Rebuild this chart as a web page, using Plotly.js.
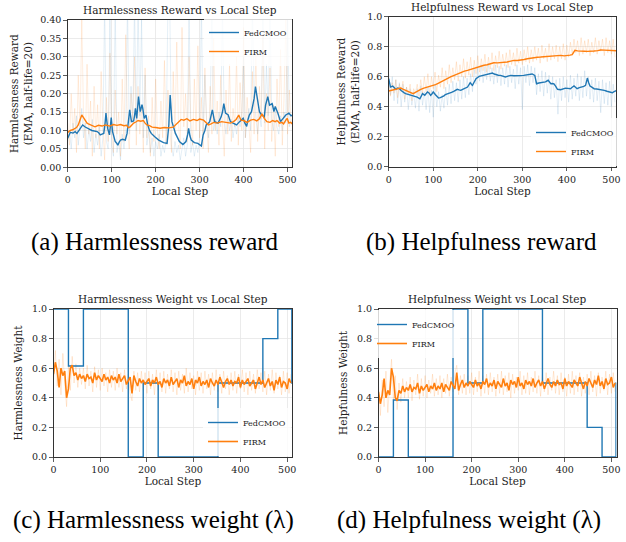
<!DOCTYPE html>
<html><head><meta charset="utf-8">
<script src="https://cdn.plot.ly/plotly-3.0.1.min.js"></script>
<style>html,body{margin:0;padding:0;background:#fff;} #chart{width:626px;height:542px;}</style>
</head><body><div id="chart"></div>
<script>
// ---------- DATA ----------
// (a) Harmlessness reward, EMA lines: [local step, value]
const harmRewardFedEma = [[0,.079],[3,.088],[6,.095],[12,.093],[17,.097],[21,.092],[25,.1],[30,.108],[34,.115],[39,.11],[44,.106],[50,.103],[55,.1],[61,.099],[67,.097],[71,.093],[74,.088],[78,.09],[82,.092],[85,.12],[87,.147],[89,.125],[91,.105],[95,.088],[97,.11],[99,.135],[102,.097],[105,.085],[108,.07],[111,.066],[114,.06],[117,.068],[120,.074],[125,.076],[131,.074],[135,.092],[138,.12],[141,.156],[145,.124],[150,.126],[152,.14],[154,.16],[157,.133],[159,.16],[161,.192],[165,.151],[169,.17],[171,.158],[174,.133],[178,.142],[182,.115],[186,.1],[190,.092],[198,.083],[207,.074],[218,.067],[226,.065],[230,.115],[233,.196],[237,.124],[241,.105],[245,.092],[250,.08],[254,.07],[262,.062],[269,.07],[273,.09],[275,.106],[278,.085],[281,.074],[288,.067],[296,.065],[304,.058],[308,.088],[312,.1],[315,.115],[320,.12],[323,.124],[326,.14],[329,.156],[334,.124],[342,.12],[349,.137],[352,.15],[355,.173],[359,.147],[365,.142],[370,.124],[376,.12],[384,.115],[391,.124],[395,.128],[399,.133],[403,.12],[407,.111],[410,.13],[413,.142],[418,.151],[424,.187],[427,.219],[431,.187],[436,.151],[441,.142],[447,.137],[450,.169],[455,.192],[459,.169],[465,.173],[469,.151],[472,.165],[478,.147],[484,.124],[490,.133],[496,.142],[503,.147],[508,.14],[511,.142]];
const harmRewardFirmEma = [[0,.095],[6,.1],[13,.103],[20,.108],[24,.115],[28,.13],[32,.142],[36,.135],[39,.128],[44,.12],[47,.118],[55,.113],[62,.11],[70,.114],[78,.112],[86,.115],[96,.112],[104,.116],[112,.114],[120,.116],[128,.113],[134,.114],[138,.108],[142,.11],[146,.116],[150,.12],[155,.123],[160,.127],[166,.125],[172,.127],[176,.12],[180,.115],[186,.113],[192,.109],[200,.108],[210,.106],[220,.108],[230,.107],[240,.109],[248,.118],[254,.125],[258,.13],[264,.128],[271,.132],[278,.126],[286,.13],[294,.127],[300,.131],[309,.128],[315,.122],[320,.115],[326,.118],[332,.122],[340,.12],[350,.124],[360,.122],[370,.12],[377,.124],[383,.13],[389,.142],[394,.128],[400,.127],[408,.122],[416,.128],[423,.13],[430,.126],[436,.132],[442,.145],[447,.133],[453,.124],[460,.122],[466,.127],[472,.124],[476,.127],[482,.12],[487,.122],[491,.118],[495,.126],[499,.133],[503,.12],[507,.122],[511,.118]];
// (a) raw per-step values, every 4 local steps
const harmRewardFedRaw = [
 0.07,0.10,0.05,0.12,0.08,0.14,0.06,0.11,0.16,0.08,0.12,0.05,0.10,0.07,0.13,0.04,
 0.09,0.06,0.11,0.03,0.08,0.45,0.07,0.05,0.40,0.06,0.03,0.45,0.04,0.07,0.02,0.09,
 0.05,0.10,0.45,0.09,0.22,0.12,0.45,0.10,0.45,0.14,0.40,0.08,0.25,0.06,0.10,0.04,
 0.08,0.03,0.07,0.05,0.09,0.03,0.06,0.04,0.08,0.45,0.45,0.06,0.03,0.07,0.04,0.06,
 0.02,0.05,0.08,0.03,0.06,0.45,0.04,0.07,0.03,0.06,0.04,0.08,0.45,0.09,0.25,0.12,
 0.08,0.16,0.45,0.10,0.13,0.09,0.15,0.11,0.45,0.12,0.09,0.14,0.10,0.13,0.08,0.12,
 0.09,0.14,0.11,0.15,0.30,0.08,0.12,0.16,0.10,0.45,0.20,0.13,0.09,0.15,0.11,0.45,
 0.12,0.28,0.14,0.45,0.13,0.10,0.16,0.11,0.09,0.14,0.10,0.15,0.12,0.45,0.11,0.13];
const harmRewardFirmRaw = [
 0.12,0.06,0.20,0.09,0.16,0.04,0.25,0.10,0.40,0.14,0.05,0.28,0.09,0.18,0.03,0.22,
 0.08,0.17,0.05,0.26,0.11,0.02,0.19,0.07,0.31,0.10,0.04,0.21,0.09,0.15,0.03,0.24,
 0.07,0.36,0.10,0.05,0.20,0.13,0.30,0.06,0.22,0.09,0.17,0.04,0.27,0.08,0.14,0.03,
 0.19,0.07,0.24,0.10,0.05,0.18,0.08,0.29,0.06,0.21,0.11,0.04,0.26,0.09,0.34,0.12,
 0.05,0.38,0.11,0.20,0.07,0.30,0.13,0.06,0.24,0.10,0.33,0.08,0.19,0.05,0.27,0.12,
 0.04,0.22,0.09,0.35,0.10,0.18,0.06,0.25,0.12,0.03,0.21,0.09,0.28,0.07,0.16,0.11,
 0.30,0.06,0.23,0.10,0.38,0.08,0.19,0.12,0.04,0.26,0.09,0.31,0.07,0.22,0.13,0.36,
 0.05,0.20,0.10,0.27,0.07,0.17,0.03,0.24,0.11,0.32,0.06,0.19,0.40,0.09,0.21,0.12];

// (b) Helpfulness reward, EMA lines
const helpRewardFedEma = [[0,.587],[2,.56],[4,.531],[9,.538],[12,.528],[16,.516],[20,.525],[24,.52],[28,.508],[31,.498],[35,.492],[38,.487],[42,.484],[46,.48],[52,.475],[57,.469],[64,.464],[70,.453],[73,.47],[76,.487],[81,.476],[84,.485],[87,.498],[91,.49],[94,.476],[97,.485],[100,.498],[105,.48],[109,.468],[112,.458],[116,.46],[120,.464],[124,.472],[127,.48],[131,.483],[135,.487],[141,.495],[146,.502],[150,.51],[154,.516],[158,.512],[162,.509],[166,.515],[169,.52],[173,.524],[177,.531],[180,.545],[183,.56],[186,.548],[188,.542],[192,.565],[196,.587],[203,.602],[208,.606],[214,.609],[220,.614],[226,.62],[233,.624],[237,.618],[241,.613],[246,.61],[251,.609],[256,.604],[262,.598],[268,.604],[274,.609],[281,.606],[288,.604],[295,.607],[303,.609],[309,.611],[315,.613],[322,.618],[328,.609],[330,.58],[332,.553],[337,.558],[341,.56],[347,.562],[352,.565],[358,.576],[361,.565],[364,.553],[368,.555],[371,.553],[375,.535],[379,.516],[386,.513],[392,.52],[397,.524],[402,.522],[408,.52],[412,.53],[416,.538],[420,.528],[423,.52],[428,.527],[434,.531],[438,.535],[442,.542],[444,.57],[446,.591],[449,.56],[452,.538],[456,.53],[461,.52],[467,.518],[472,.516],[478,.512],[484,.509],[490,.503],[495,.498],[502,.493],[506,.5],[511,.507]];
const helpRewardFirmEma = [[0,.505],[6,.51],[12,.516],[20,.52],[27,.524],[33,.515],[38,.508],[44,.502],[49,.498],[55,.487],[60,.495],[64,.503],[72,.515],[79,.524],[87,.53],[94,.538],[100,.542],[105,.547],[111,.555],[117,.565],[125,.578],[132,.591],[140,.6],[147,.609],[155,.62],[162,.631],[170,.637],[177,.642],[185,.65],[192,.658],[199,.664],[206,.671],[214,.676],[221,.68],[229,.686],[236,.693],[244,.692],[251,.693],[259,.696],[266,.698],[274,.704],[281,.709],[289,.708],[296,.709],[304,.715],[311,.72],[319,.724],[326,.729],[334,.73],[341,.731],[349,.733],[356,.736],[364,.738],[371,.74],[379,.743],[386,.742],[394,.739],[401,.74],[407,.744],[412,.747],[415,.765],[418,.776],[424,.772],[431,.769],[439,.77],[446,.769],[454,.768],[461,.771],[469,.774],[476,.778],[484,.777],[491,.776],[500,.775],[505,.774],[511,.773]];
const helpRewardFedRaw = [
 .62,.48,.60,.44,.58,.42,.56,.40,.55,.43,.53,.38,.52,.41,.50,.39,
 .52,.37,.54,.41,.50,.38,.53,.36,.51,.33,.55,.40,.50,.37,.48,.39,
 .53,.41,.55,.42,.57,.44,.56,.43,.58,.45,.60,.46,.59,.48,.62,.50,
 .65,.55,.66,.57,.68,.56,.67,.58,.69,.57,.66,.55,.68,.56,.67,.54,
 .66,.55,.68,.53,.67,.56,.65,.52,.68,.55,.66,.38,.67,.56,.68,.54,
 .67,.56,.66,.48,.62,.50,.64,.47,.63,.49,.61,.45,.60,.46,.58,.35,
 .59,.44,.60,.46,.58,.43,.61,.45,.59,.47,.62,.44,.60,.46,.64,.47,
 .60,.45,.58,.43,.59,.44,.57,.36,.58,.42,.56,.41,.57,.40,.55,.43];
const helpRewardFirmRaw = [
 .55,.47,.56,.49,.58,.46,.55,.50,.57,.45,.53,.48,.55,.44,.52,.49,
 .55,.47,.58,.49,.60,.50,.62,.48,.60,.52,.63,.50,.61,.53,.66,.52,
 .64,.55,.68,.56,.66,.58,.70,.57,.68,.60,.72,.59,.70,.61,.73,.60,
 .71,.62,.74,.63,.72,.64,.75,.63,.73,.65,.76,.64,.74,.66,.77,.65,
 .75,.67,.76,.66,.78,.68,.76,.67,.79,.69,.77,.68,.78,.70,.80,.69,
 .78,.70,.80,.71,.79,.69,.81,.72,.79,.70,.82,.71,.80,.72,.81,.70,
 .80,.72,.82,.71,.81,.73,.83,.75,.85,.76,.84,.74,.86,.75,.84,.76,
 .85,.74,.83,.76,.86,.75,.84,.77,.85,.74,.86,.76,.84,.75,.85,.73];

// (c)/(d) FedCMOO weights (step function): change points and values
const fedWeightSteps = [0,32,64,160,192,224,352,448,480,510,511];
const harmWeightFed = [1,0.615,1,0,0.5,0,0.5,0.8,1,0.5,0.5];
const helpWeightFed = [0,0.385,0,1,0.5,1,0.5,0.2,0,0.5,0.5];
// (c)/(d) FIRM weights, every 4 local steps
const harmWeightFirm = [
 .56,.64,.58,.47,.60,.55,.58,.40,.46,.60,.62,.55,.57,.52,.56,.53,
 .55,.51,.56,.53,.54,.50,.57,.52,.55,.53,.51,.56,.52,.54,.50,.55,
 .52,.54,.50,.56,.51,.53,.55,.49,.52,.54,.43,.55,.51,.48,.53,.50,
 .52,.49,.51,.53,.48,.52,.50,.54,.49,.51,.47,.53,.50,.52,.48,.54,
 .49,.51,.53,.47,.52,.50,.55,.48,.51,.49,.53,.46,.52,.50,.54,.48,
 .51,.49,.52,.47,.53,.50,.48,.52,.49,.54,.50,.47,.51,.53,.49,.52,
 .48,.51,.50,.54,.47,.52,.49,.51,.53,.48,.50,.52,.46,.51,.54,.49,
 .52,.47,.50,.53,.48,.51,.45,.52,.49,.54,.47,.51,.50,.46,.53,.50];
const harmWeightFirmRaw = [
 .52,.72,.48,.66,.42,.70,.50,.34,.62,.45,.68,.50,.63,.47,.60,.49,
 .60,.46,.62,.48,.58,.44,.61,.47,.59,.45,.60,.48,.57,.44,.59,.47,
 .58,.45,.60,.47,.57,.44,.59,.46,.56,.43,.38,.58,.45,.57,.44,.58,
 .45,.57,.43,.58,.46,.56,.42,.59,.45,.57,.44,.58,.43,.56,.46,.59,
 .44,.57,.42,.58,.45,.56,.43,.60,.44,.57,.46,.55,.42,.58,.45,.57,
 .43,.58,.46,.56,.42,.57,.45,.59,.44,.56,.43,.58,.46,.55,.42,.57,
 .45,.58,.43,.56,.46,.59,.44,.57,.42,.58,.45,.56,.43,.59,.46,.57,
 .44,.58,.42,.56,.45,.59,.43,.57,.46,.55,.42,.58,.44,.57,.43,.56];
const helpWeightFirm = [
 .44,.36,.42,.53,.40,.45,.42,.60,.54,.40,.38,.45,.43,.48,.44,.47,
 .45,.49,.44,.47,.46,.50,.43,.48,.45,.47,.49,.44,.48,.46,.50,.45,
 .48,.46,.50,.44,.49,.47,.45,.51,.48,.46,.57,.45,.49,.52,.47,.50,
 .48,.51,.49,.47,.52,.48,.50,.46,.51,.49,.53,.47,.50,.48,.52,.46,
 .51,.49,.47,.53,.48,.50,.45,.52,.49,.51,.47,.54,.48,.50,.46,.52,
 .49,.51,.48,.53,.47,.50,.52,.48,.51,.46,.50,.53,.49,.47,.51,.48,
 .52,.49,.50,.46,.53,.48,.51,.49,.47,.52,.50,.48,.54,.49,.46,.51,
 .48,.53,.50,.47,.52,.49,.55,.48,.51,.46,.53,.49,.50,.54,.47,.50];
const helpWeightFirmRaw = [
 .48,.28,.52,.34,.58,.30,.50,.66,.38,.55,.32,.50,.37,.53,.40,.51,
 .40,.54,.38,.52,.42,.56,.39,.53,.41,.55,.40,.52,.43,.56,.41,.53,
 .42,.55,.40,.53,.43,.56,.41,.54,.44,.57,.62,.42,.55,.43,.56,.42,
 .55,.43,.57,.42,.54,.44,.58,.41,.55,.43,.56,.42,.57,.44,.54,.41,
 .56,.43,.58,.42,.55,.44,.57,.40,.56,.43,.54,.45,.58,.42,.55,.43,
 .57,.42,.54,.44,.58,.43,.55,.41,.56,.44,.57,.42,.54,.45,.58,.43,
 .55,.42,.57,.44,.54,.41,.56,.43,.58,.42,.55,.44,.57,.41,.54,.43,
 .56,.42,.58,.44,.55,.41,.57,.43,.54,.45,.58,.42,.56,.43,.57,.44];

const seriesNames = ['FedCMOO', 'FIRM'];
const panelTitles = ['Harmlessness Reward vs Local Step','Helpfulness Reward vs Local Step','Harmlessness Weight vs Local Step','Helpfulness Weight vs Local Step'];
const yTitles = ['Harmlessness Reward<br>(EMA, half-life=20)','Helpfulness Reward<br>(EMA, half-life=20)','Harmlessness Weight','Helpfulness Weight'];
const captions = ['(a) Harmlessness reward','(b) Helpfulness reward','(c) Harmlessness weight (λ)','(d) Helpfulness weight (λ)'];
const xTitle = 'Local Step';

// ---------- BUILD ----------
const BLUE = '#1f77b4', ORANGE = '#ff7f0e';
const BLUE_L = 'rgba(31,119,180,0.11)', ORANGE_L = 'rgba(255,127,14,0.13)';
const BLUE_B = 'rgba(31,119,180,0.12)', ORANGE_B = 'rgba(255,127,14,0.16)';
const rawSteps = harmRewardFedRaw.map((_, i) => i * 4);
const xs = p => p.map(d => d[0]);
const ys = p => p.map(d => d[1]);

function raw(y, color, n) {
  return {x: rawSteps, y: y, xaxis: 'x' + n, yaxis: 'y' + n, type: 'scatter', mode: 'lines',
    line: {color: color, width: 1}, showlegend: false, hoverinfo: 'skip'};
}
function main(x, y, color, name, n, shape, width) {
  return {x: x, y: y, xaxis: 'x' + n, yaxis: 'y' + n, type: 'scatter', mode: 'lines', name: name,
    line: {color: color, width: width || 1.4, shape: shape || 'linear'},
    legend: n === '' ? 'legend' : 'legend' + n};
}

const traces = [
  raw(harmRewardFedRaw, BLUE_L, ''), raw(harmRewardFirmRaw, ORANGE_L, ''),
  main(xs(harmRewardFedEma), ys(harmRewardFedEma), BLUE, seriesNames[0], ''),
  main(xs(harmRewardFirmEma), ys(harmRewardFirmEma), ORANGE, seriesNames[1], ''),

  raw(helpRewardFedRaw, BLUE_B, '2'), raw(helpRewardFirmRaw, ORANGE_B, '2'),
  main(xs(helpRewardFedEma), ys(helpRewardFedEma), BLUE, seriesNames[0], '2'),
  main(xs(helpRewardFirmEma), ys(helpRewardFirmEma), ORANGE, seriesNames[1], '2'),

  raw(harmWeightFirmRaw, ORANGE_B, '3'),
  main(fedWeightSteps, harmWeightFed, BLUE, seriesNames[0], '3', 'hv'),
  main(rawSteps, harmWeightFirm, ORANGE, seriesNames[1], '3', 'linear', 1.6),

  raw(helpWeightFirmRaw, ORANGE_B, '4'),
  main(fedWeightSteps, helpWeightFed, BLUE, seriesNames[0], '4', 'hv'),
  main(rawSteps, helpWeightFirm, ORANGE, seriesNames[1], '4', 'linear', 1.6)
];

const W = 626, H = 542;
const px = v => v / W, py = v => 1 - v / H;

const axBase = {showline: true, mirror: true, linecolor: '#333', linewidth: 1,
  ticks: 'outside', ticklen: 3.5, tickwidth: 0.8, tickcolor: '#333',
  showgrid: true, gridcolor: '#e6e6e6', gridwidth: 0.8, zeroline: false,
  tickfont: {size: 9.5, color: '#222'}};
function xax(d0, d1, anchor) {
  return Object.assign({}, axBase, {domain: [px(d0), px(d1)], anchor: anchor, range: [0, 511],
    tick0: 0, dtick: 100, title: {text: xTitle, font: {size: 10.5, color: '#222'}, standoff: 3}});
}
function yax(d0, d1, anchor, range, dtick, fmt, title, standoff) {
  return Object.assign({}, axBase, {domain: [py(d1), py(d0)], anchor: anchor, range: range,
    tick0: 0, dtick: dtick, tickformat: fmt,
    title: {text: title, font: {size: 10.5, color: '#222'}, standoff: standoff}});
}

const legBase = {bgcolor: 'rgba(255,255,255,0.8)', borderwidth: 0, font: {size: 8, color: '#222'}, xanchor: 'left'};

const annotations = [];
const axPairs = [['x', 'y'], ['x2', 'y2'], ['x3', 'y3'], ['x4', 'y4']];
panelTitles.forEach((t, i) => annotations.push({text: t, xref: axPairs[i][0] + ' domain', yref: axPairs[i][1] + ' domain',
  x: 0.5, y: 1, xanchor: 'center', yanchor: 'bottom', yshift: 2, showarrow: false, font: {size: 10.5, color: '#222'}}));
const capPos = [[154.5, 242], [481, 242], [153, 520], [469, 520]];
captions.forEach((c, i) => annotations.push({text: c, xref: 'paper', yref: 'paper', x: px(capPos[i][0]), y: py(capPos[i][1]),
  xanchor: 'center', yanchor: 'middle', showarrow: false, font: {family: 'Liberation Serif', size: 25, color: '#000'}}));

const layout = {
  width: W, height: H, margin: {l: 0, r: 0, t: 0, b: 0},
  paper_bgcolor: '#fff', plot_bgcolor: '#fff',
  font: {family: 'DejaVu Serif', size: 9.5, color: '#222'},
  showlegend: true,
  xaxis: xax(67.7, 292.4, 'y'),
  yaxis: yax(20, 167.3, 'x', [0, 0.4], 0.05, '.2f', yTitles[0], 5),
  xaxis2: xax(388.7, 616.3, 'y2'),
  yaxis2: yax(16.7, 166.7, 'x2', [0, 1], 0.2, '.1f', yTitles[1], 5),
  xaxis3: xax(53.5, 292.3, 'y3'),
  yaxis3: yax(309, 457, 'x3', [0, 1], 0.2, '.1f', yTitles[2], 7),
  xaxis4: xax(378.5, 616.5, 'y4'),
  yaxis4: yax(309, 457, 'x4', [0, 1], 0.2, '.1f', yTitles[3], 7),
  legend: Object.assign({}, legBase, {x: px(204), y: py(18), yanchor: 'top'}),
  legend2: Object.assign({}, legBase, {x: px(531), y: py(166), yanchor: 'bottom'}),
  legend3: Object.assign({}, legBase, {x: px(203), y: py(456), yanchor: 'bottom'}),
  legend4: Object.assign({}, legBase, {x: px(372), y: py(310), yanchor: 'top'}),
  annotations: annotations
};

Plotly.newPlot('chart', traces, layout, {staticPlot: true, displayModeBar: false});
</script></body></html>
